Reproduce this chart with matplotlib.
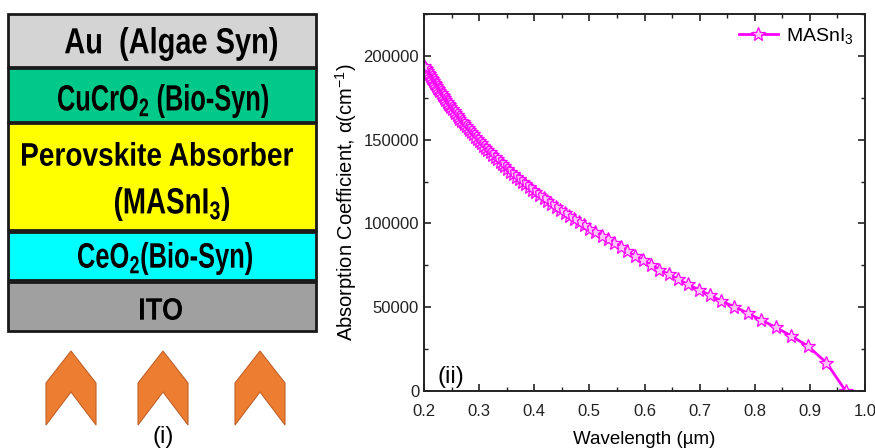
import matplotlib
matplotlib.use('Agg')
import matplotlib.pyplot as plt
from matplotlib.patches import Rectangle, Polygon, PathPatch
from matplotlib.textpath import TextPath
from matplotlib.font_manager import FontProperties
from matplotlib.transforms import Affine2D
from matplotlib.ticker import MultipleLocator

plt.rcParams['font.family'] = ['Liberation Sans', 'DejaVu Sans']
plt.rcParams['mathtext.default'] = 'regular'

# absorption data of MASnI3
wavelength = [0.965, 0.930, 0.896, 0.866, 0.838, 0.811, 0.787, 0.763, 0.739, 0.719,
              0.698, 0.679, 0.661, 0.644, 0.627, 0.612, 0.597, 0.583, 0.569, 0.557,
              0.544, 0.533, 0.522, 0.511, 0.500, 0.490, 0.481, 0.472, 0.463, 0.455,
              0.446, 0.439, 0.431, 0.424, 0.417, 0.409, 0.402, 0.396, 0.390, 0.384,
              0.378, 0.372, 0.367, 0.361, 0.356, 0.351, 0.346, 0.342, 0.337, 0.333,
              0.328, 0.323, 0.319, 0.315, 0.311, 0.307, 0.303, 0.300, 0.296, 0.292,
              0.289, 0.286, 0.282, 0.279, 0.276, 0.273, 0.270, 0.267, 0.264, 0.262,
              0.259, 0.256, 0.254, 0.251, 0.248, 0.246, 0.244, 0.241, 0.239, 0.237,
              0.234, 0.232, 0.230, 0.228, 0.226, 0.224, 0.222, 0.220, 0.218, 0.216,
              0.214, 0.212, 0.211, 0.209, 0.207, 0.205, 0.204, 0.202, 0.200]
alpha = [0, 16900, 26900, 32900, 38000, 42500, 46500, 50300, 53700, 57200,
         60500, 63600, 66700, 69600, 72500, 75300, 78000, 80600, 83300, 85800,
         88400, 90600, 92700, 94700, 96800, 98800, 100800, 102600, 104500, 106400,
         108300, 110000, 111800, 113500, 115200, 116900, 118600, 120200, 121800, 123400,
         125000, 126600, 128000, 129600, 131000, 132600, 134100, 135500, 136900, 138300,
         139800, 141100, 142500, 143800, 145200, 146500, 147900, 149100, 150500, 151700,
         153100, 154300, 155500, 156700, 157900, 159100, 160300, 161400, 162600, 163700,
         164900, 166000, 167100, 168200, 169300, 170400, 171500, 172600, 173700, 174800,
         175800, 176900, 178000, 179000, 180000, 181100, 182000, 183000, 184000, 185000,
         186000, 187000, 188000, 188900, 189900, 190900, 191900, 192800, 193700]

# device stack, top to bottom
layer_colors = ['#d4d4d4', '#00c98a', '#ffff00', '#00ffff', '#a0a0a0']
layer_tops = [14, 68, 123, 232, 282]
layer_bottoms = [67, 122, 230, 280, 331]
# label text and its ink box (x0, x1, ytop, ybottom) in pixels
layer_texts = [
    ('Au  (Algae Syn)', (65, 277, 27, 61)),
    ('CuCrO$_2$ (Bio-Syn)', (58, 268, 84, 118)),
    ('Perovskite Absorber', (22, 293, 142, 166)),
    ('(MASnI$_3$)', (115, 229, 187, 221)),
    ('CeO$_2$(Bio-Syn)', (78, 252, 242, 275)),
    ('ITO', (140, 182, 298, 320)),
]

fig = plt.figure(figsize=(8.75, 4.48), dpi=100)

# left panel in pixel coords
ax0 = fig.add_axes([0, 0, 1, 1])
ax0.set_xlim(0, 875)
ax0.set_ylim(448, 0)
ax0.axis('off')
for c, t, b in zip(layer_colors, layer_tops, layer_bottoms):
    ax0.add_patch(Rectangle((8, t), 308, b - t, facecolor=c, edgecolor='#1a1a1a', lw=2))

# condensed bold labels: text drawn as a path squeezed into its box
bold = FontProperties(family='Liberation Sans', weight='bold')
for s, (x0, x1, yt, yb) in layer_texts:
    tp = TextPath((0, 0), s, size=20, prop=bold)
    ext = tp.get_extents()
    tr = (Affine2D().translate(-ext.x0, -ext.y1)
          .scale((x1 - x0) / ext.width, -(yb - yt) / ext.height)
          .translate(x0, yt))
    ax0.add_patch(PathPatch(tr.transform_path(tp), facecolor='black', edgecolor='none'))

# light arrows
for cx in [71, 163, 260]:
    pts = [(cx - 25, 383), (cx, 351), (cx + 25, 383), (cx + 25, 425), (cx, 392), (cx - 25, 425)]
    ax0.add_patch(Polygon(pts, closed=True, facecolor='#ed7d31', edgecolor='#c0622a', lw=0.8))
ax0.text(163, 437, '(i)', ha='center', va='center', fontsize=17)

# right panel
ax = fig.add_axes([424 / 875, 1 - 391 / 448, 441 / 875, 377 / 448])
ax.plot(wavelength, alpha, color='#ff00ff', lw=2, marker='*', ms=10,
        mfc='#ffc6ff', mec='#ff00ff', mew=0.9, label='MASnI$_3$')
ax.set_xlim(0.2, 1.0)
ax.set_ylim(0, 225000)
ax.xaxis.set_major_locator(MultipleLocator(0.1))
ax.xaxis.set_minor_locator(MultipleLocator(0.05))
ax.yaxis.set_major_locator(MultipleLocator(50000))
ax.yaxis.set_minor_locator(MultipleLocator(25000))
ax.tick_params(which='both', direction='in', top=True, right=True, labelsize=12, colors='#222222')
ax.tick_params(which='major', length=5, width=1.2)
ax.tick_params(which='minor', length=3, width=1.0)
ax.tick_params(axis='x', which='major', pad=9)
for s in ax.spines.values():
    s.set_linewidth(1.4)
    s.set_color('#222222')
ax.set_xlabel('Wavelength (\u00b5m)', fontsize=13.5, labelpad=9)
ax.set_ylabel('Absorption Coefficient, \u03b1(cm$^{-1}$)', fontsize=14.5, labelpad=3)
ax.legend(loc='upper right', frameon=False, fontsize=14, handlelength=2.0,
          borderaxespad=0.2, borderpad=0.4, handletextpad=0.4)
ax.text(0.225, 5000, '(ii)', fontsize=17)

fig.savefig('out.png', dpi=100)
